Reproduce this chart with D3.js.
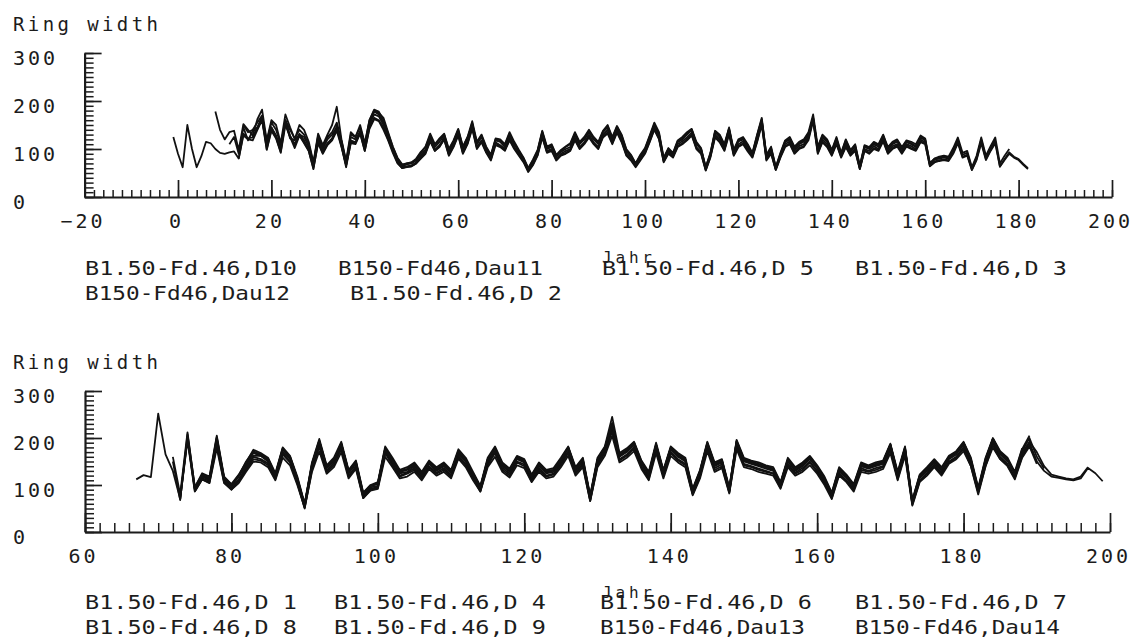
<!DOCTYPE html>
<html>
<head>
<meta charset="utf-8">
<script src="https://cdn.jsdelivr.net/npm/d3@7"></script>
<style>
body { margin: 0; background: #fff; }
svg text { font-family: "DejaVu Sans Mono", monospace; fill: #1c1c1c; }
.axis path, .axis line { stroke: #1c1c1c; }
</style>
</head>
<body>
<div id="chart"></div>
<script>
// tick labels
var yTicks = [0, 100, 200, 300];
var topXTicks = [-20, 0, 20, 40, 60, 80, 100, 120, 140, 160, 180, 200];
var bottomXTicks = [60, 80, 100, 120, 140, 160, 180, 200];

// upper chart: series names and first year of each
var topNames = ["B1.50-Fd.46,D10", "B150-Fd46,Dau11", "B1.50-Fd.46,D 5", "B1.50-Fd.46,D 3", "B150-Fd46,Dau12", "B1.50-Fd.46,D 2"];
var topStarts = [-1, 8, 11, 13, 14, 16];

var d10 = [125,90,62,150,100,62,85,115,112,100,92,90,93,
  95,80,128,120,118,140,160,98,138,122,
  92,150,125,102,128,112,96,60,112,90,
  108,118,138,104,66,112,110,132,96,142,
  162,158,140,118,92,70,60,63,64,70,
  80,90,116,96,104,120,86,104,128,90,
  110,142,100,114,92,76,108,104,96,118,
  100,86,72,52,66,86,124,92,96,76,
  86,90,96,118,100,110,124,110,100,124,
  132,110,134,114,86,76,62,76,90,114,
  140,120,72,90,82,104,110,118,128,100,
  90,55,82,124,114,96,130,86,104,110,
  95,82,114,150,76,90,56,82,104,110,
  90,100,104,118,158,90,114,104,86,110,
  82,104,86,96,58,96,90,100,96,116,
  90,100,105,90,105,100,96,114,110,64,
  72,75,77,75,90,112,82,86,56,77,
  112,77,96,112,63,77,90,82,77,67,58];

var dau11 = [178,140,120,135,
  138,98,152,140,128,162,182,118,160,150,
  112,172,145,120,150,140,115,72,132,108,
  130,150,188,120,75,135,125,150,112,160,
  180,175,165,135,105,82,68,70,72,78,
  92,105,132,110,122,132,100,118,142,105,
  125,158,115,130,105,88,122,120,110,135,
  115,98,82,60,78,98,138,105,110,88,
  98,105,112,135,115,125,140,125,115,138,
  150,125,148,130,100,88,70,88,102,128,
  155,135,82,102,92,118,125,135,142,115,
  102,62,92,138,130,110,145,98,120,125,
  110,92,130,165,88,105,62,92,118,125,
  105,115,120,135,172,105,130,120,98,125,
  92,120,98,110,65,108,104,115,110,130,
  104,115,120,104,118,115,110,128,122,70,
  80,84,86,84,102,124,92,96,62,86,
  124,86,106,124,70,86,100];

var d5 = [110,
  125,90,145,118,138,145,168,112,145,126,
  105,158,122,118,130,125,105,68,125,100,
  120,130,145,115,70,125,120,135,108,155,
  178,172,155,128,100,78,64,68,70,76,
  88,98,126,104,115,128,95,112,138,100,
  118,155,110,125,100,84,118,115,104,130,
  110,94,78,58,72,94,134,100,104,84,
  94,100,104,130,110,120,135,120,110,135,
  145,120,145,125,95,84,68,84,98,124,
  150,130,78,98,88,114,120,130,140,110,
  100,60,88,135,125,105,142,94,116,120,
  105,88,125,160,84,100,60,88,114,120,
  100,110,115,130,165,100,125,115,94,120,
  88,115,94,105,62,104,100,110,105,126,
  100,110,115,100,114,110,104,124,118,68,
  78,80,82,80,98,120,88,92,60,82,
  120,82,102,120];

var d3val = [80,132,122,124,142,165,100,140,124,
  94,155,126,108,128,114,96,58,114,92,
  110,120,142,106,62,114,112,134,96,145,
  165,160,145,120,95,72,60,62,64,70,
  82,92,118,96,106,120,88,106,130,92,
  112,145,102,116,94,78,112,106,98,120,
  102,88,74,54,68,88,126,94,98,78,
  88,92,98,120,102,112,126,112,102,126,
  135,112,136,116,88,78,64,78,92,116,
  142,122,74,92,84,106,112,120,130,102,
  92,56,84,126,116,98,134,88,106,112,
  98,84,116,154,78,92,57,84,106,112,
  92,102,106,122,162,92,116,106,88,112,
  84,106,88,98,59,98,92,102,98,118,
  92,102,108,92,108,102,98,116,112,65,
  74,77,78,77,93,115,84,88,57,79,
  116,79,98,116,64,79,93,84,79,69,60];

var dau12 = [150,135,140,155,170,115,155,140,
  108,160,140,122,140,130,110,70,128,105,
  125,135,155,118,72,130,125,145,110,160,
  182,178,160,132,104,80,66,70,72,80,
  94,104,128,108,120,130,98,116,140,104,
  124,152,112,128,102,86,120,118,108,132,
  112,96,80,60,76,96,136,102,108,86,
  96,104,110,132,112,122,138,122,112,136,
  148,122,146,128,98,86,70,86,100,126,
  152,132,80,100,90,116,122,132,140,112,
  100,62,90,136,128,108,142,96,118,122,
  108,90,128,162,86,102,62,90,116,122,
  104,112,118,132,160,102,128,118,96,122,
  90,118,96,108,64,106,102,112,108,128,
  102,112,118,102,116,112,106,126,120,70,
  80,82,84,82];

var d2 = [125,145,160,108,145,128,
  100,160,128,110,132,118,100,64,118,96,
  112,122,148,108,66,118,114,138,100,150,
  172,168,150,124,98,74,62,64,66,72,
  84,94,120,98,108,124,90,108,134,94,
  114,148,104,118,96,80,114,108,100,124,
  104,90,76,56,70,90,130,96,100,80,
  90,96,100,124,104,114,130,114,104,130,
  140,114,140,120,90,80,66,80,94,120,
  146,124,76,94,86,110,116,124,134,104,
  94,58,86,130,120,100,138,90,110,116,
  100,86,120,156,80,96,58,86,110,116,
  96,106,110,126,166,96,120,110,90,116,
  86,110,90,100,60,100,96,106,100,122,
  96,106,110,96,110,106,100,120,114];

// lower chart
var bottomNames = ["B1.50-Fd.46,D 1", "B1.50-Fd.46,D 4", "B1.50-Fd.46,D 6", "B1.50-Fd.46,D 7", "B1.50-Fd.46,D 8", "B1.50-Fd.46,D 9", "B150-Fd46,Dau13", "B150-Fd46,Dau14"];
var bottomStarts = [67, 72, 73, 73, 74, 75, 72, 76];

var d1 = [112,121,117,252,165,130,70,200,88,115,
  108,195,108,92,110,135,160,155,146,115,
  168,150,106,52,136,186,130,146,180,120,
  140,75,92,96,170,145,120,126,136,116,
  140,126,136,120,162,145,116,88,145,170,
  136,124,150,144,110,136,120,124,146,170,
  126,146,68,145,170,220,155,165,180,140,
  116,176,120,170,155,145,82,120,180,136,
  144,85,185,145,140,135,130,125,96,145,
  126,136,150,130,106,75,126,110,92,136,
  130,136,140,176,116,170,60,110,126,144,
  126,150,160,180,145,85,145,190,160,145,
  116,165,190,150];

var d4 = [160,80,212,95,125,118,205,118,102,122,
  148,175,168,158,125,180,162,118,60,148,
  198,142,158,192,132,152,84,100,106,182,
  158,132,138,148,128,152,138,148,132,176,
  158,128,98,158,182,148,135,162,155,122,
  148,132,136,158,182,138,158,78,158,182,
  245,168,178,192,152,128,190,132,182,168,
  158,92,132,192,148,155,94,196,158,152,
  148,142,138,106,158,138,148,162,142,118,
  84,138,122,102,148,142,148,152,188,128,
  182,68,122,138,155,138,162,172,192,158,
  94,158,200,172,158,128,178];

var d6 = [75,198,92,120,112,190,112,98,118,142,
  168,162,152,120,175,158,112,58,142,192,
  138,152,188,128,148,80,98,102,178,152,
  128,132,142,122,148,132,142,128,170,152,
  122,95,152,178,142,130,158,150,118,142,
  128,130,152,178,132,152,75,152,178,230,
  162,172,188,148,122,185,128,178,162,152,
  88,128,188,142,150,90,192,152,148,142,
  138,132,102,152,132,142,158,138,112,80,
  132,118,98,142,138,142,148,185,122,178,
  64,118,132,150,132,158,168,188,152,90,
  152,198,168,152,122,172,200,160,135];

var d7 = [70,195,86,112,105,185,105,90,108,132,
  155,152,142,112,165,148,104,50,132,182,
  128,142,178,118,138,72,90,94,168,142,
  118,124,132,114,138,124,132,118,160,142,
  114,86,142,168,132,120,148,140,108,132,
  118,122,142,168,124,142,66,142,168,215,
  152,162,178,138,112,175,118,168,152,142,
  80,118,178,132,140,84,182,142,138,132,
  128,124,94,142,124,132,148,128,104,72,
  124,108,90,132,128,132,138,176,112,168,
  58,108,124,140,124,148,158,178,140,84,
  140,185,155,142,115,160,185,150,130,118,
  115,112,110,114,136,125,108];

var d8 = [205,92,118,110,200,112,96,112,138,162,
  162,150,118,170,155,110,56,138,188,135,
  150,185,125,145,78,95,98,172,150,125,
  128,140,120,145,130,140,125,166,150,120,
  92,150,172,140,128,155,148,115,140,125,
  128,150,172,130,150,72,150,172,225,160,
  170,185,145,120,180,125,175,160,150,85,
  125,185,140,148,88,188,150,145,140,135,
  130,100,150,130,140,155,135,110,78,130,
  115,95,140,135,140,145,182,120,175,62,
  115,130,148,130,155,165,185,150,88,150,
  195,165,150];

var d9 = [86,112,104,178,104,90,104,128,150,148,
  138,110,158,142,100,52,128,172,124,138,
  170,114,134,72,88,92,160,138,114,118,
  128,110,134,120,128,114,156,138,110,86,
  138,160,128,116,142,136,106,128,114,118,
  138,162,120,138,66,138,162,205,148,158,
  172,134,110,168,114,162,148,138,78,114,
  172,128,136,82,176,138,134,128,124,120,
  92,138,120,128,142,124,100,70,120,106,
  86,128,124,128,134,168,110,162,56,106,
  120,138,120,145,155,172,140,80,140,180,
  155,140,112,158,182,145];

var dau13 = [150,68,208,96,122,115,202,115,100,120,
  150,172,164,155,122,176,160,115,58,145,
  194,138,154,188,130,150,82,98,104,178,
  154,130,134,145,124,150,134,145,128,172,
  154,124,96,155,178,145,132,160,152,120,
  145,128,132,155,180,135,155,76,155,180,
  232,165,175,190,150,124,186,130,180,165,
  155,90,130,190,145,152,92,194,155,150,
  145,140,135,104,155,135,145,160,140,115,
  82,135,120,100,145,140,145,150,186,125,
  180,66,120,135,152,135,160,170,190,155,
  92,155,198,170,155,125,176,205];

var dau14 = [122,114,192,116,100,120,145,170,165,156,
  122,178,160,114,58,144,194,140,154,188,
  128,148,80,98,104,176,152,128,134,144,
  124,148,134,144,128,172,154,124,95,154,
  178,144,132,158,152,118,144,130,132,154,
  180,134,154,74,154,178,228,164,174,188,
  148,124,186,128,178,164,154,88,128,188,
  144,152,92,192,154,148,144,138,134,104,
  154,134,144,158,138,112,80,134,118,98,
  144,138,144,148,186,124,178,64,118,134,
  152,134,158,170,190,154,90,154,198,168,
  152,124,168,192,170,140,122,118,114,112,118,138];

var topValues = [d10, dau11, d5, d3val, dau12, d2];
var bottomValues = [d1, d4, d6, d7, d8, d9, dau13, dau14];

var svg = d3.select("#chart")
    .append("svg")
    .attr("width", 1137)
    .attr("height", 639);

function drawPanel(p) {
    var x = d3.scaleLinear().domain([p.xTicks[0], p.xTicks[p.xTicks.length - 1]]).range([p.left, p.right]);
    var y = d3.scaleLinear().domain([0, 300]).range([p.base, p.top]);

    // title
    svg.append("text")
        .attr("x", 13).attr("y", p.top - 22)
        .attr("font-size", 19)
        .attr("textLength", 145)
        .text("Ring width");

    // minor ticks, every 2 years / 10 units
    svg.append("g").attr("class", "axis")
        .attr("transform", "translate(0," + p.base + ")")
        .call(d3.axisBottom(x).tickValues(d3.range(x.domain()[0], x.domain()[1] + 1, 2))
            .tickSize(-p.minor).tickSizeOuter(0).tickFormat(""))
        .call(function(g) { g.select(".domain").attr("stroke-width", 2.2); })
        .selectAll("line").attr("stroke-width", 1.5);
    svg.append("g").attr("class", "axis")
        .attr("transform", "translate(" + p.left + ",0)")
        .call(d3.axisLeft(y).tickValues(d3.range(0, 301, 10))
            .tickSize(-9).tickSizeOuter(0).tickFormat(""))
        .call(function(g) { g.select(".domain").attr("stroke-width", 2.2); })
        .selectAll("line").attr("stroke-width", 1.5);

    // major ticks and labels
    var xa = svg.append("g").attr("class", "axis")
        .attr("transform", "translate(0," + p.base + ")")
        .call(d3.axisBottom(x).tickValues(p.xTicks).tickSize(-p.major).tickSizeOuter(0).tickPadding(17));
    xa.select(".domain").remove();
    xa.selectAll("line").attr("stroke-width", 1.7);
    xa.selectAll("text")
        .attr("font-size", 20)
        .attr("letter-spacing", 3)
        .attr("dx", -2)
        .attr("font-family", "DejaVu Sans Mono, monospace")
        .attr("fill", "#1c1c1c");

    var ya = svg.append("g").attr("class", "axis")
        .attr("transform", "translate(" + p.left + ",0)")
        .call(d3.axisLeft(y).tickValues(yTicks).tickSize(-17).tickSizeOuter(0));
    ya.select(".domain").remove();
    ya.selectAll("line").attr("stroke-width", 1.7);
    ya.selectAll("text")
        .attr("x", 13 - p.left)
        .attr("dy", "0.55em")
        .attr("text-anchor", "start")
        .attr("font-size", 20)
        .attr("letter-spacing", 3)
        .attr("font-family", "DejaVu Sans Mono, monospace")
        .attr("fill", "#1c1c1c");

    // series
    var line = d3.line()
        .x(function(d) { return x(d.year); })
        .y(function(d) { return y(d.v); });
    p.values.forEach(function(vals, i) {
        var pts = vals.map(function(v, k) { return {year: p.starts[i] + k, v: v}; });
        svg.append("path")
            .datum(pts)
            .attr("fill", "none")
            .attr("stroke", "#111")
            .attr("stroke-width", 1.8)
            .attr("stroke-linejoin", "round")
            .attr("d", line);
    });

    // legend
    p.names.forEach(function(name, i) {
        svg.append("text")
            .attr("x", p.legend[i][0]).attr("y", p.legend[i][1])
            .attr("font-size", 20)
            .attr("textLength", name.indexOf("Dau") >= 0 ? 205 : 212)
            .attr("lengthAdjust", "spacingAndGlyphs")
            .text(name);
    });

    // axis title, drawn over the third legend entry as in the original plot
    svg.append("text")
        .attr("x", 602).attr("y", p.jahrY)
        .attr("font-size", 16)
        .attr("textLength", 50)
        .text("Jahr");
}

drawPanel({
    xTicks: topXTicks, left: 84.6, right: 1112, base: 197, top: 53,
    minor: 7, major: 17,
    names: topNames, starts: topStarts, values: topValues,
    legend: [[85, 275], [338, 275], [602, 275], [855, 275], [85, 300], [350, 300]],
    jahrY: 263
});

drawPanel({
    xTicks: bottomXTicks, left: 85, right: 1110, base: 532, top: 391,
    minor: 9, major: 19,
    names: bottomNames, starts: bottomStarts, values: bottomValues,
    legend: [[85, 609], [334, 609], [600, 609], [855, 609], [85, 634], [334, 634], [600, 634], [855, 634]],
    jahrY: 598
});
</script>
</body>
</html>
